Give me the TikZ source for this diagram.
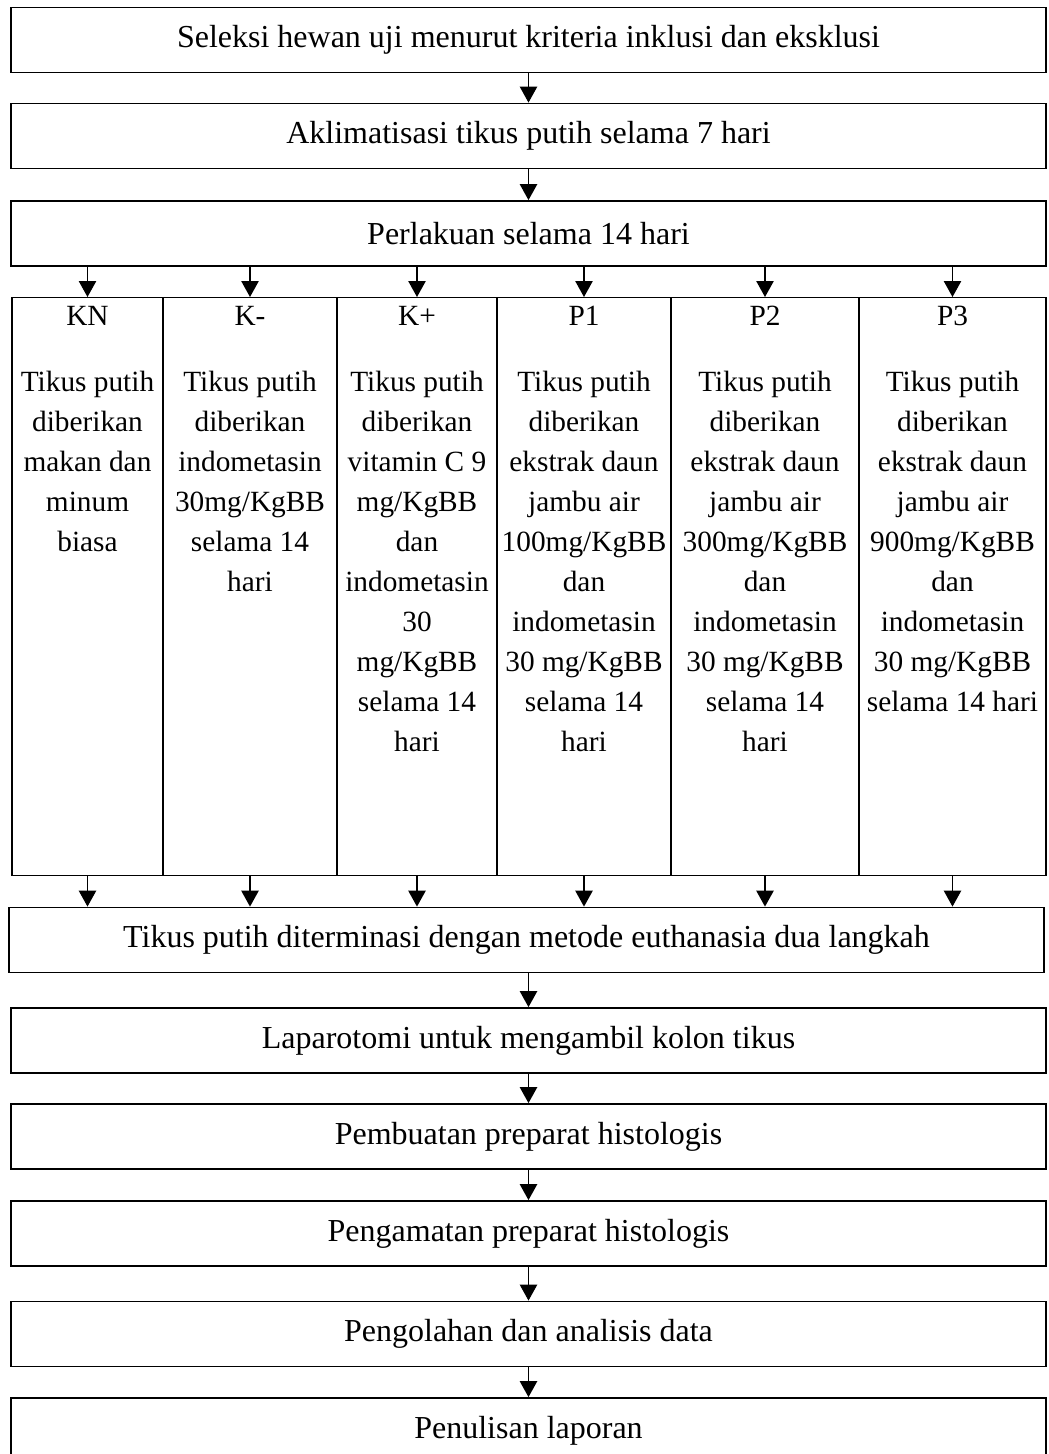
\documentclass[tikz,border=0pt]{standalone}
\usepackage{fontspec}
\setmainfont{Liberation Serif}
\usetikzlibrary{arrows.meta,positioning}
\tikzset{
  stepbox/.style={draw, line width=1.1pt, minimum width=776pt, minimum height=49pt, font=\fontsize{24}{28}\selectfont},
  grpbox/.style={draw, line width=1pt, anchor=north, minimum height=433.5pt},
  grptext/.style={anchor=north, align=center, inner sep=0pt, font=\fontsize{22}{30}\selectfont},
  flow/.style={-{Triangle[width=13pt,length=12pt]}, line width=1.1pt},
}

\begin{document}
\begin{tikzpicture}[x=0.75pt,y=-0.75pt]
	\useasboundingbox (0,0) rectangle (1049,1454);
	% top steps
	\node[stepbox] (sel) at (528.5,40) {Seleksi hewan uji menurut kriteria inklusi dan eksklusi};
	\node[stepbox] (akl) at (528.5,136) {Aklimatisasi tikus putih selama 7 hari};
	\node[stepbox] (prl) at (528.5,233.5) {Perlakuan selama 14 hari};
	\draw[flow] (sel.south) -- (akl.north);
	\draw[flow] (akl.south) -- (prl.north);
	% groups
	\node[grpbox, minimum width=113.25pt] (kn) at (87.5,297) {};
	\node[grpbox, minimum width=130.5pt] (kmin) at (250,297) {};
	\node[grpbox, minimum width=120pt] (kplus) at (417,297) {};
	\node[grpbox, minimum width=130.5pt] (p1) at (584,297) {};
	\node[grpbox, minimum width=141pt] (p2) at (765,297) {};
	\node[grpbox, minimum width=140.25pt] (p3) at (952.5,297) {};
	\node[grptext] (kn-txt) at (87.5,306) {KN\\[19.5pt]Tikus putih\\diberikan\\makan dan\\minum\\biasa};
	\node[grptext] (kmin-txt) at (250,306) {K-\\[19.5pt]Tikus putih\\diberikan\\indometasin\\30mg/KgBB\\selama 14\\hari};
	\node[grptext] (kplus-txt) at (417,306) {K+\\[19.5pt]Tikus putih\\diberikan\\vitamin C 9\\mg/KgBB\\dan\\indometasin\\30\\mg/KgBB\\selama 14\\hari};
	\node[grptext] (p1-txt) at (584,306) {P1\\[19.5pt]Tikus putih\\diberikan\\ekstrak daun\\jambu air\\100mg/KgBB\\dan\\indometasin\\30 mg/KgBB\\selama 14\\hari};
	\node[grptext] (p2-txt) at (765,306) {P2\\[19.5pt]Tikus putih\\diberikan\\ekstrak daun\\jambu air\\300mg/KgBB\\dan\\indometasin\\30 mg/KgBB\\selama 14\\hari};
	\node[grptext] (p3-txt) at (952.5,306) {P3\\[19.5pt]Tikus putih\\diberikan\\ekstrak daun\\jambu air\\900mg/KgBB\\dan\\indometasin\\30 mg/KgBB\\selama 14 hari};
	\draw[flow] (prl.south -| kn.north) -- (kn.north);
	\draw[flow] (prl.south -| kmin.north) -- (kmin.north);
	\draw[flow] (prl.south -| kplus.north) -- (kplus.north);
	\draw[flow] (prl.south -| p1.north) -- (p1.north);
	\draw[flow] (prl.south -| p2.north) -- (p2.north);
	\draw[flow] (prl.south -| p3.north) -- (p3.north);
	% bottom steps
	\node[stepbox] (eut) at (526.5,940) {Tikus putih diterminasi dengan metode euthanasia dua langkah};
	\node[stepbox] (lap) at (528.5,1040.5) {Laparotomi untuk mengambil kolon tikus};
	\node[stepbox] (pem) at (528.5,1136.5) {Pembuatan preparat histologis};
	\node[stepbox] (pen) at (528.5,1233.5) {Pengamatan preparat histologis};
	\node[stepbox] (olh) at (528.5,1334) {Pengolahan dan analisis data};
	\node[stepbox] (lpr) at (528.5,1430.5) {Penulisan laporan};
	\draw[flow] (kn.south) -- (kn.south |- eut.north);
	\draw[flow] (kmin.south) -- (kmin.south |- eut.north);
	\draw[flow] (kplus.south) -- (kplus.south |- eut.north);
	\draw[flow] (p1.south) -- (p1.south |- eut.north);
	\draw[flow] (p2.south) -- (p2.south |- eut.north);
	\draw[flow] (p3.south) -- (p3.south |- eut.north);
	\draw[flow] (eut.south -| lap.north) -- (lap.north);
	\draw[flow] (lap.south) -- (pem.north);
	\draw[flow] (pem.south) -- (pen.north);
	\draw[flow] (pen.south) -- (olh.north);
	\draw[flow] (olh.south) -- (lpr.north);
\end{tikzpicture}
\end{document}
